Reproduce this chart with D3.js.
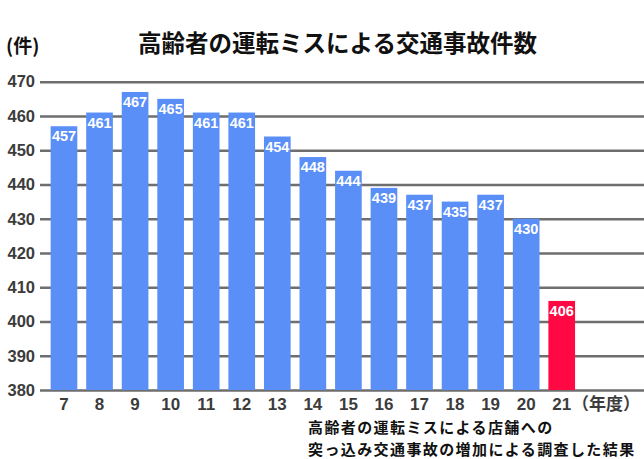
<!DOCTYPE html>
<html>
<head>
<meta charset="utf-8">
<script src="https://cdn.jsdelivr.net/npm/d3@7"></script>
<style>
  body { margin: 0; background: #fff; }
  svg { display: block; }
  .num { font-family: "Liberation Sans", Arial, Helvetica, sans-serif; font-weight: bold; }
  .jp { font-family: "Noto Sans CJK JP", sans-serif; font-weight: bold; }
</style>
</head>
<body>
<svg width="644" height="459"></svg>
<script>
// data
const years = ['7', '8', '9', '10', '11', '12', '13', '14', '15', '16', '17', '18', '19', '20', '21'];
const counts = [457, 461, 467, 465, 461, 461, 454, 448, 444, 439, 437, 435, 437, 430, 406];
const yTicks = [380, 390, 400, 410, 420, 430, 440, 450, 460, 470];
const highlightYear = '21';

const titleText = '高齢者の運転ミスによる交通事故件数';
const unitText = '(件)';
const yearText = '（年度）';
const noteLines = ['高齢者の運転ミスによる店舗への', '突っ込み交通事故の増加による調査した結果'];

var svg = d3.select('svg');

// scales
var x = d3.scaleBand()
  .domain(years)
  .range([46.2, 579.5])
  .paddingInner(0.25)
  .paddingOuter(0.125);

var y = d3.scaleLinear()
  .domain([380, 470])
  .range([390, 81.7]);

// gridlines + y labels
var yAxis = svg.append('g')
  .attr('class', 'num')
  .attr('transform', 'translate(40,0)')
  .call(d3.axisLeft(y).tickValues(yTicks).tickSize(-604).tickPadding(5));

yAxis.select('.domain').remove();
yAxis.selectAll('line')
  .attr('stroke', '#6e6e6e')
  .attr('stroke-width', 2.5);
yAxis.selectAll('text')
  .attr('fill', '#3c3c3c')
  .style('font-size', '16.5px');

// bars
svg.append('g')
  .selectAll('rect')
  .data(years)
  .enter()
  .append('rect')
  .attr('x', function (d) { return x(d); })
  .attr('width', x.bandwidth())
  .attr('y', function (d, i) { return y(counts[i]); })
  .attr('height', function (d, i) { return y(380) - y(counts[i]); })
  .attr('fill', function (d) { return d === highlightYear ? '#ff0844' : '#5a8ff8'; });

// value labels inside the bars
svg.append('g')
  .attr('class', 'num')
  .selectAll('text')
  .data(years)
  .enter()
  .append('text')
  .attr('x', function (d) { return x(d) + x.bandwidth() / 2; })
  .attr('y', function (d, i) { return y(counts[i]) + 15; })
  .attr('text-anchor', 'middle')
  .attr('fill', '#fff')
  .style('font-size', '14.5px')
  .text(function (d, i) { return counts[i]; });

// x labels
var xAxis = svg.append('g')
  .attr('class', 'num')
  .attr('transform', 'translate(0,390)')
  .call(d3.axisBottom(x).tickSize(0).tickPadding(8));

xAxis.select('.domain').remove();
xAxis.selectAll('text')
  .attr('fill', '#3c3c3c')
  .style('font-size', '17px');

svg.append('text')
  .attr('class', 'jp')
  .attr('x', 572)
  .attr('y', 410)
  .attr('fill', '#3c3c3c')
  .style('font-size', '17px')
  .text(yearText);

// title and unit
svg.append('text')
  .attr('class', 'jp')
  .attr('x', 337.5)
  .attr('y', 52)
  .attr('text-anchor', 'middle')
  .attr('fill', '#111')
  .style('font-size', '23.5px')
  .text(titleText);

svg.append('text')
  .attr('class', 'jp')
  .attr('x', 6)
  .attr('y', 53)
  .attr('fill', '#111')
  .style('font-size', '19px')
  .text(unitText);

// footnote (two lines, slightly spaced out to match the original width)
svg.append('g')
  .attr('class', 'jp')
  .selectAll('text')
  .data(noteLines)
  .enter()
  .append('text')
  .attr('x', 308)
  .attr('y', function (d, i) { return 432.5 + i * 22; })
  .attr('fill', '#111')
  .style('font-size', '15px')
  .style('letter-spacing', '1.4px')
  .text(function (d) { return d; });
</script>
</body>
</html>
